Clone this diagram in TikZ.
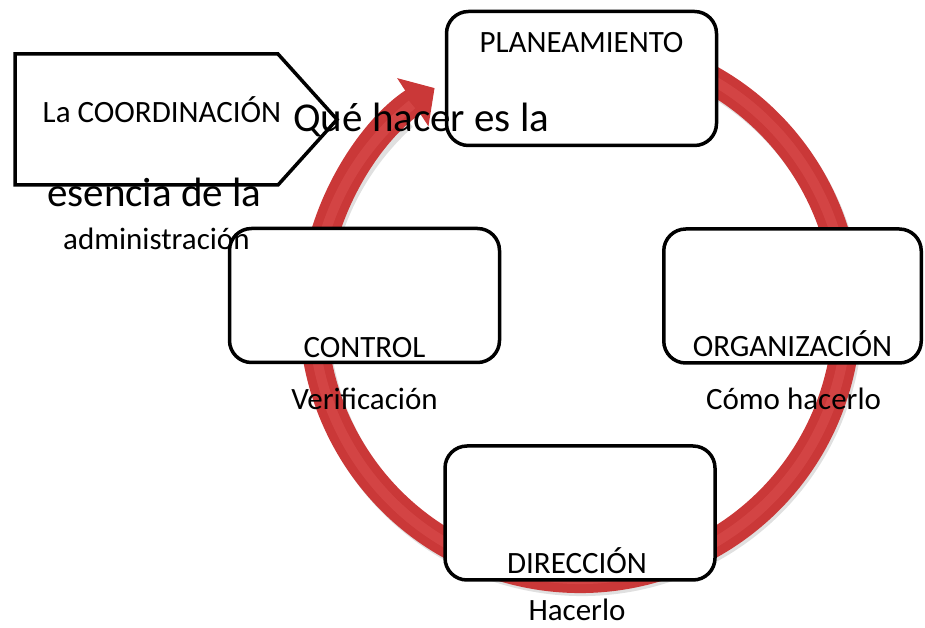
\documentclass[tikz,border=0pt]{standalone}
\usepackage{fontspec}
\setmainfont{Carlito}
\usepackage{tikz}
\usetikzlibrary{positioning,arrows.meta,calc}
\definecolor{ringred}{RGB}{202,56,56}
\definecolor{ringlight}{RGB}{228,92,92}
\def\boxwidth{270pt}
\def\boxheight{134pt}
\def\ringradius{267}
\tikzstyle{block}=[draw=black,line width=3.5pt,fill=white,rounded corners=22pt,
    minimum width=\boxwidth,minimum height=\boxheight,inner sep=0pt]
\tikzstyle{boxtext}=[font=\fontsize{31}{37}\selectfont,inner sep=0pt,anchor=base]
\tikzstyle{bigtext}=[font=\fontsize{41}{49}\selectfont,inner sep=0pt,anchor=base west]
\tikzstyle{ring}=[draw=ringred,line width=28pt]

\begin{document}
\begin{tikzpicture}[x=1pt,y=1pt]
    \useasboundingbox (0,0) rectangle (925,628);
    \coordinate (c) at (580,316);
    % cycle arrow
    \draw[line width=28pt,black!12] ($(c)+(2,-3)+(75:\ringradius)$)
        arc[start angle=75,end angle=-228,radius=\ringradius];
    \draw[ring,-{Triangle[length=26pt,width=56pt]}] ($(c)+(75:\ringradius)$)
        arc[start angle=75,end angle=-237,radius=\ringradius];
    \draw[line width=10pt,ringlight,opacity=0.35] ($(c)+(75:\ringradius)$)
        arc[start angle=75,end angle=-231,radius=\ringradius];
    % boxes
    \node[block] (plan) at (581.5,549.5) {};
    \node[block] (control) at (364.5,332.5) {};
    \node[block,minimum width=257.5pt] (organ) at (792.5,332) {};
    \node[block] (dir) at (580,115) {};
    \draw[line width=3.5pt,fill=white] (15,574) -- (278,574) -- (337,508.5)
        -- (278,443) -- (15,443) -- cycle;
    % texts
    \node[boxtext] (plantext) at ([yshift=-43pt]plan.north) {PLANEAMIENTO};
    \node[boxtext] (controltext) at ([yshift=7pt]control.south) {CONTROL};
    \node[boxtext] (organtext) at ([yshift=8pt]organ.south) {ORGANIZACIÓN};
    \node[boxtext] (dirtext) at ([xshift=-3pt,yshift=8pt]dir.south) {DIRECCIÓN};
    \node[boxtext] (verif) at ([yshift=-45pt]control.south) {Verificación};
    \node[boxtext] (como) at ([xshift=1pt,yshift=-45pt]organ.south) {Cómo hacerlo};
    \node[boxtext] (hacer) at ([xshift=-3pt,yshift=-39pt]dir.south) {Hacerlo};
    \node[boxtext] (coordtext) at (162,505) {La COORDINACIÓN};
    \node[bigtext] (que) at (293,496) {Qué hacer es la};
    \node[bigtext] (esencia) at (47,421) {esencia de la};
    \node[boxtext,anchor=base west] (admin) at (63,378) {administración};
\end{tikzpicture}
\end{document}
